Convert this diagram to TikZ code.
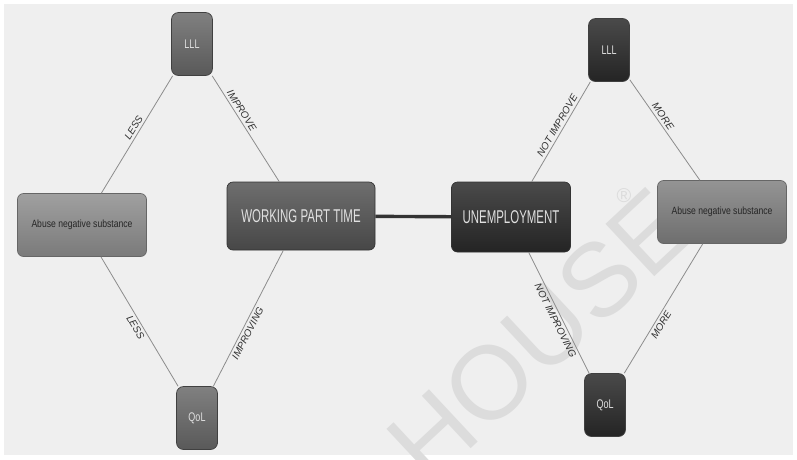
\documentclass[tikz,border=0pt]{standalone}
\usepackage{fontspec}
\setmainfont{Liberation Sans}
\newfontfamily\narrowbig[FakeStretch=0.62]{Liberation Sans}
\newfontfamily\narrowmid[FakeStretch=0.82]{Liberation Sans}
\newfontfamily\narrowsmall[FakeStretch=0.72]{Liberation Sans}

\definecolor{bgc}{HTML}{EFEFEF}
\definecolor{linkc}{HTML}{8C8C8C}
\definecolor{labc}{HTML}{303030}
\definecolor{midtop}{HTML}{808080}
\definecolor{midbot}{HTML}{595959}
\definecolor{wpttop}{HTML}{6E6E6E}
\definecolor{wptbot}{HTML}{474747}
\definecolor{darktop}{HTML}{4A4A4A}
\definecolor{darkbot}{HTML}{242424}
\definecolor{abLtop}{HTML}{A0A0A0}
\definecolor{abLbot}{HTML}{7A7A7A}
\definecolor{abRtop}{HTML}{949494}
\definecolor{abRbot}{HTML}{6E6E6E}
\definecolor{wmc}{HTML}{DCDCDC}

\begin{document}
\begin{tikzpicture}[x=1pt,y=-1pt,
  tag/.style={rounded corners=7pt, minimum width=41pt, minimum height=63pt,
    inner sep=0pt, draw=black!75, line width=0.7pt, text=white!88!black,
    font=\narrowsmall\fontsize{12.5}{12.5}\selectfont},
  midtag/.style={tag, top color=midtop, bottom color=midbot},
  darktag/.style={tag, top color=darktop, bottom color=darkbot},
  mainbox/.style={rounded corners=6pt, inner sep=0pt, draw=black!80,
    line width=0.7pt, text=white!88!black,
    font=\narrowbig\fontsize{18.5}{18.5}\selectfont},
  abusebox/.style={rounded corners=6pt, inner sep=0pt, draw=black!60,
    line width=0.7pt, text=black!85, minimum width=129pt, minimum height=63pt,
    font=\narrowmid\fontsize{10.5}{10.5}\selectfont},
  link/.style={draw=linkc, line width=0.8pt},
  lab/.style={font=\itshape\fontsize{10}{10}\selectfont, text=labc,
    sloped, inner sep=2.5pt},
  bond/.style={draw=black!80, line width=3.4pt}
]
% canvas
\fill[white] (0,0) rectangle (797,459);
\useasboundingbox (0,0) rectangle (797,459);
\fill[bgc] (4,4) rectangle (793,455);

% watermark
\node[text=wmc, rotate=43, font=\fontsize{104}{104}\selectfont, inner sep=0pt]
  (wm) at (540,335) {HOUSE};
\node[text=wmc, font=\fontsize{20}{20}\selectfont, inner sep=0pt]
  (wmr) at (624,196) {®};

% nodes
\node[midtag] (lllL) at (192,44) {LLL};
\node[midtag] (qolL) at (197,418) {QoL};
\node[abusebox, top color=abLtop, bottom color=abLbot] (abL) at (82,225)
  {Abuse negative substance};
\node[mainbox, minimum width=148pt, minimum height=68pt,
  top color=wpttop, bottom color=wptbot] (wpt) at (301,216) {WORKING PART TIME};
\node[mainbox, minimum width=119pt, minimum height=70pt,
  top color=darktop, bottom color=darkbot] (unemp) at (511,217) {UNEMPLOYMENT};
\node[darktag] (lllR) at (609,50) {LLL};
\node[darktag] (qolR) at (605,405) {QoL};
\node[abusebox, top color=abRtop, bottom color=abRbot] (abR) at (722,212)
  {Abuse negative substance};

% connectors
\draw[bond] (wpt) -- (unemp);
\draw[link] (lllL) -- node[lab, pos=0.47, above] {LESS} (abL);
\draw[link] (lllL) -- node[lab, pos=0.36, above] {IMPROVE} (wpt);
\draw[link] (abL) -- node[lab, pos=0.52, below] {LESS} (qolL);
\draw[link] (wpt) -- node[lab, pos=0.59, below] {IMPROVING} (qolL);
\draw[link] (unemp) -- node[lab, pos=0.53, above] {NOT IMPROVE} (lllR);
\draw[link] (lllR) -- node[lab, pos=0.40, above] {MORE} (abR);
\draw[link] (unemp) -- node[lab, pos=0.54, below] {NOT IMPROVING} (qolR);
\draw[link] (abR) -- node[lab, pos=0.60, below] {MORE} (qolR);
\end{tikzpicture}
\end{document}
